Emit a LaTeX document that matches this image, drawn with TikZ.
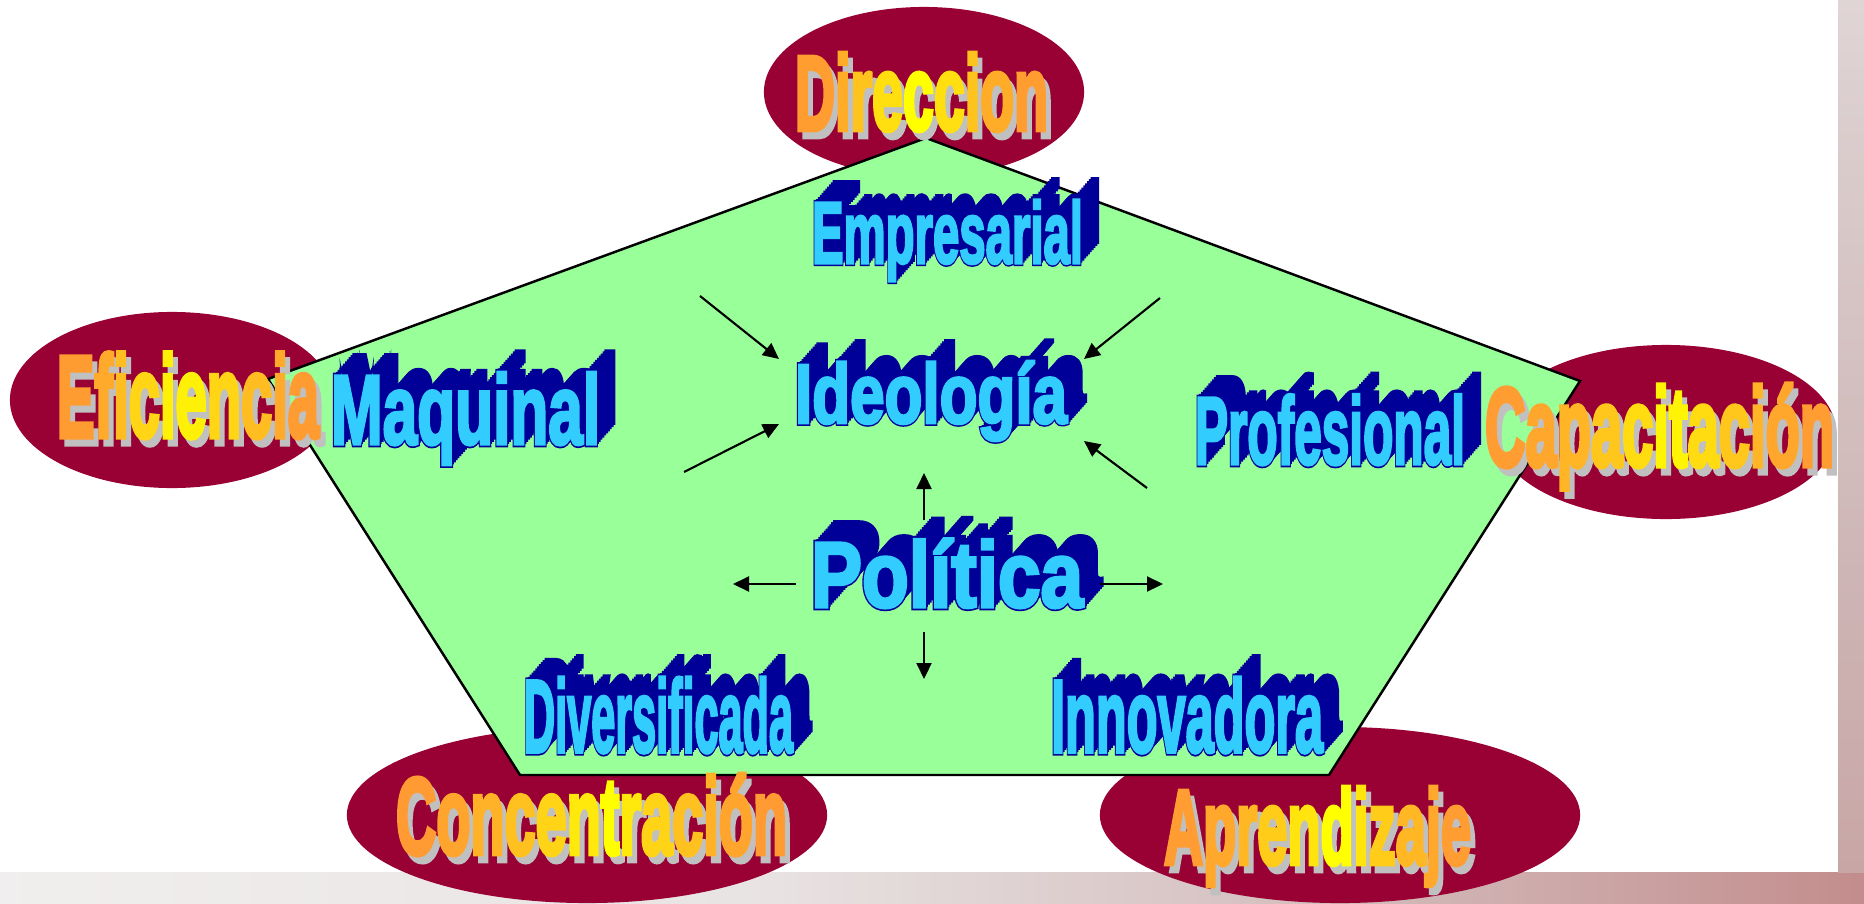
\documentclass[tikz,border=0pt]{standalone}
\usepackage{fontspec}
\usepackage{graphicx}
\usetikzlibrary{arrows.meta,shapes.geometric}

\newfontfamily\artfont[FakeBold=4.5]{Liberation Sans Bold}
\newfontfamily\waveface[FakeBold=3.5]{Liberation Sans Bold}
\newfontfamily\waveedge[FakeBold=7]{Liberation Sans Bold}
\newfontfamily\wavedepth[FakeBold=4]{Liberation Sans Bold}

\definecolor{wordorange}{HTML}{FF9933}
\definecolor{wordyellow}{HTML}{FFFF00}
\definecolor{wordshadow}{HTML}{C0C0C0}
\definecolor{ovalred}{HTML}{990033}
\definecolor{pentgreen}{HTML}{99FF99}
\definecolor{wavecyan}{HTML}{33CCFF}
\definecolor{wavenavy}{HTML}{000099}
\definecolor{bgA}{HTML}{FAFAFA}
\definecolor{bgB}{HTML}{E9E4E4}
\definecolor{bgC}{HTML}{D2B9B9}
\definecolor{bgD}{HTML}{C08282}
\definecolor{bgE}{HTML}{C59A9A}
\definecolor{bgF}{HTML}{F5F3F3}
\definecolor{bgG}{HTML}{DCCFCF}
\definecolor{bgH}{HTML}{CDB3B3}
\definecolor{bgI}{HTML}{C29090}

\pgfdeclarehorizontalshading{stripbottom}{100bp}{color(0bp)=(bgA); color(45bp)=(bgB); color(62bp)=(bgC); color(78bp)=(bgD); color(100bp)=(bgE)}
\pgfdeclareverticalshading{stripright}{100bp}{color(0bp)=(bgI); color(40bp)=(bgH); color(70bp)=(bgG); color(100bp)=(bgF)}

\newdimen\pxu \pxu=0.01cm
% word box: width and cap height in pixels, font, text
\newcommand\fitbox[4]{\resizebox{#1\pxu}{#2\pxu}{\sbox0{#3H}\raisebox{0pt}[\ht0]{#3#4}}}
% letters coloured from orange at the ends to yellow in the middle
\newcommand\gradword[2]{\foreach \ch [count=\idx] in {#2}{\pgfmathsetmacro\mixv{100*(1-abs(2*(\idx-0.5)/#1-1))^1.5}\textcolor{wordyellow!\mixv!wordorange}{\ch}}}
\newcommand\plainword[1]{\foreach \ch in {#1}{\ch}}

\tikzset{
  artnode/.style={inner sep=0pt, outer sep=0pt, anchor=base west},
  oval/.style={ellipse, fill=ovalred, inner sep=0pt},
  pentagon/.style={fill=pentgreen, draw=black, line width=0.7pt, line join=miter},
  pointer/.style={draw=black, line width=0.6pt, -{Triangle[length=0.16cm,width=0.15cm]}}
}

% orange word with grey drop shadow: name, x, baseline, width, height, letters, letter list
\newcommand\orangeword[7]{%
  \node[artnode] (#1-sh) at (#2+5,#3+7) {\fitbox{#4}{#5}{\artfont}{\color{wordshadow}\plainword{#7}}};
  \node[artnode] (#1) at (#2,#3) {\fitbox{#4}{#5}{\artfont}{\gradword{#6}{#7}}};}

% blue extruded word: name, x, baseline, width, height, text
\newcommand\waveword[6]{%
  \foreach \st in {10,9,...,1}{%
    \node[artnode] (#1-x\st) at (#2+1.85*\st,#3-2.1*\st) {\fitbox{#4}{#5}{\wavedepth}{\color{wavenavy}#6}};}
  \node[artnode] (#1-edge) at (#2,#3) {\fitbox{#4}{#5}{\waveedge}{\color{wavenavy}#6}};
  \node[artnode] (#1) at (#2,#3) {\fitbox{#4}{#5}{\waveface}{\color{wavecyan}#6}};}

\begin{document}
\begin{tikzpicture}[x=0.01cm, y=-0.01cm]
\useasboundingbox (0,0) rectangle (1864,903);

% page background
\shade[shading=stripbottom] (0,872) rectangle (1864,903);
\shade[shading=stripright] (1838,0) rectangle (1864,872);
\fill[white] (0,0) rectangle (1838,872);

% ovals
\node[oval, minimum width=3.2cm, minimum height=1.7cm] (ovDir) at (924,92) {};
\node[oval, minimum width=3.24cm, minimum height=1.76cm] (ovEfi) at (172,400) {};
\node[oval, minimum width=3.4cm, minimum height=1.74cm] (ovCap) at (1666,432) {};
\node[oval, minimum width=4.8cm, minimum height=1.76cm] (ovCon) at (587,815) {};
\node[oval, minimum width=4.8cm, minimum height=1.76cm] (ovApr) at (1340,815) {};

% pentagon
\coordinate (pTop) at (926,138);
\coordinate (pRight) at (1580,381);
\coordinate (pBR) at (1329,775);
\coordinate (pBL) at (520,775);
\coordinate (pLeft) at (268,379);
\draw[pentagon] (pTop) -- (pRight) -- (pBR) -- (pBL) -- (pLeft) -- cycle;

% outer labels
\orangeword{wDir}{795}{130}{253}{73}{9}{D,i,r,e,c,c,i,o,n}
\orangeword{wEfi}{57}{437}{262}{80}{10}{E,f,i,c,i,e,n,c,i,a}
\orangeword{wCap}{1485}{466}{349}{77}{12}{C,a,p,a,c,i,t,a,c,i,ó,n}
\orangeword{wCon}{396}{854}{391}{75}{13}{C,o,n,c,e,n,t,r,a,c,i,ó,n}
\orangeword{wApr}{1164}{864}{307}{73}{11}{A,p,r,e,n,d,i,z,a,j,e}

% inner labels
\waveword{wEmp}{812}{263}{271}{60}{Empresarial}
\waveword{wMaq}{331}{444}{269}{68}{Maquinal}
\waveword{wIde}{795}{423}{272}{58}{Ideología}
\waveword{wPro}{1195}{464}{270}{66}{Profesional}
\waveword{wPol}{811}{607}{272}{64}{Política}
\waveword{wDiv}{524}{752}{269}{71}{Diversificada}
\waveword{wInn}{1051}{752}{272}{71}{Innovadora}

% arrows towards the ideology
\coordinate (tA1) at (700,296);  \coordinate (hA1) at (779,359);
\coordinate (tA2) at (1160,298); \coordinate (hA2) at (1084,359);
\coordinate (tA3) at (684,472);  \coordinate (hA3) at (779,424);
\coordinate (tA4) at (1147,488); \coordinate (hA4) at (1084,441);
\draw[pointer] (tA1) -- (hA1);
\draw[pointer] (tA2) -- (hA2);
\draw[pointer] (tA3) -- (hA3);
\draw[pointer] (tA4) -- (hA4);

% arrows out of the policy
\coordinate (tUp) at (924,520);    \coordinate (hUp) at (924,473);
\coordinate (tLeft) at (796,584);  \coordinate (hLeft) at (733,584);
\coordinate (tRight) at (1100,584);\coordinate (hRight) at (1163,584);
\coordinate (tDown) at (924,632);  \coordinate (hDown) at (924,679);
\draw[pointer] (tUp) -- (hUp);
\draw[pointer] (tLeft) -- (hLeft);
\draw[pointer] (tRight) -- (hRight);
\draw[pointer] (tDown) -- (hDown);
\end{tikzpicture}
\end{document}
